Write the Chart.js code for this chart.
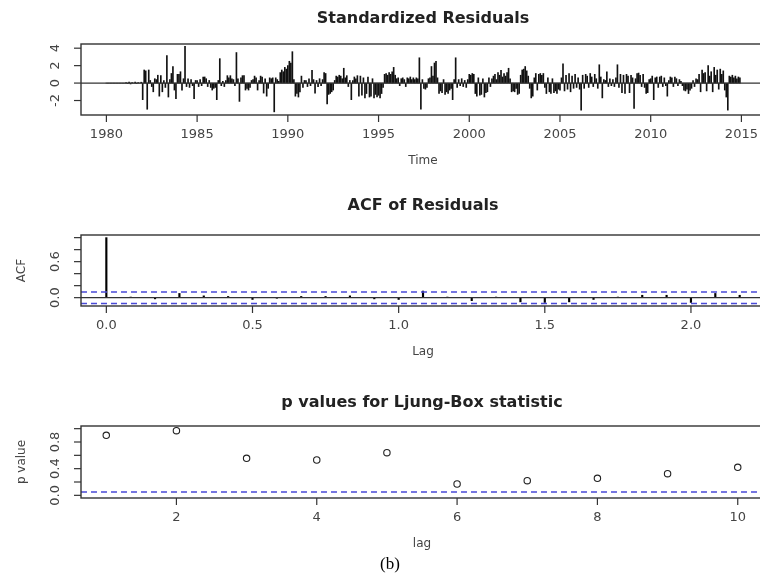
<!DOCTYPE html>
<html>
<head>
<meta charset="utf-8">
<title>tsdiag</title>
<script src="https://cdn.jsdelivr.net/npm/chart.js@4.4.1/dist/chart.umd.min.js"></script>
<style>
  html, body { margin: 0; padding: 0; background: #fff; width: 760px; height: 577px; overflow: hidden; }
  .panel { position: absolute; left: 0; }
  #caption {
    position: absolute; left: 0; width: 780px; top: 554px;
    text-align: center; font-family: "Liberation Serif", "DejaVu Serif", serif; font-size: 17px; color: #000;
  }
</style>
</head>
<body>
<canvas id="residChart" class="panel" style="top:0" width="800" height="180"></canvas>
<canvas id="acfChart" class="panel" style="top:180px" width="800" height="200"></canvas>
<canvas id="lbChart" class="panel" style="top:380px" width="800" height="197"></canvas>
<div id="caption">(b)</div>
<script>
// Standardized residuals, monthly, Jan 1980 .. Dec 2014
const residStart = 1980;
const resid = [
  0, 0, 0, 0, 0, 0, 0, 0, 0, 0, 0, 0,                                // 1980
  0, 0.05, -0.05, 0.1, -0.1, 0.05, 0, 0.1, -0.05, 0.05, 0, 0.1,        // 1981
  -1.9, 1.5, 1.4, -3.0, 1.5, 0.3, -0.4, -1.0, 0.5, 0.4, 0.9, -1.5,     // 1982
  0.85, -1.0, 0.3, -0.5, 3.15, -1.6, 0.4, 1.1, 1.9, -0.8, -1.8, 1.0,   // 1983
  1.0, 1.3, -0.8, 0.5, 4.2, -0.4, 0.5, -0.5, 0.4, -0.3, -1.8, 0.3,     // 1984
  0.3, -0.4, 0.4, -0.3, 0.7, 0.7, 0.5, -0.4, 0.3, -0.5, -0.8, -0.6,    // 1985
  -0.5, -1.9, 0.3, 2.8, -0.3, 0.2, -0.4, 0.3, 0.85, 0.6, 0.85, 0.5,    // 1986
  0.4, -0.3, 3.5, 0.5, -2.1, 0.6, 0.85, 0.85, -0.8, -0.6, -0.8, -0.5,  // 1987
  0.3, 0.4, 0.8, 0.6, -0.8, 0.3, 0.8, 0.7, -1.15, 0.5, -1.5, -0.6,     // 1988
  0.6, 0.5, 0.6, -3.3, 0.6, 0.4, 0.2, 1.2, 1.5, 1.3, 1.8, 1.6,         // 1989
  2.0, 2.5, 2.3, 3.6, 0.4, -1.5, -1.2, -1.6, -1.0, 0.8, -0.5, 0.3,     // 1990
  0.3, -0.4, 0.5, -0.3, 1.45, 0.4, -1.15, 0.3, -0.4, 0.5, -0.3, 0.4,   // 1991
  1.2, 1.1, -2.4, -1.3, -1.2, -1.0, -0.8, 0.3, 0.8, 0.7, 0.9, 0.8,     // 1992
  0.5, 1.7, 0.6, 0.85, -0.4, 0.3, -1.9, 0.3, 0.7, 0.5, 0.85, -1.5,     // 1993
  0.8, -1.4, 0.6, -1.7, -1.2, 0.7, -1.6, -1.5, 0.5, -1.7, -1.3, -1.6,  // 1994
  -1.4, -1.7, -1.2, -0.5, 1.0, 1.1, 0.9, 1.2, 1.0, 1.3, 1.8, 0.9,      // 1995
  0.5, 0.6, -0.3, 0.5, 0.6, 0.4, -0.4, 0.6, 0.5, 0.7, 0.4, 0.6,        // 1996
  0.4, 0.6, 0.5, 2.9, -3.0, 0.4, -0.6, -0.7, -0.5, 0.5, 0.6, 1.9,      // 1997
  0.8, 2.3, 2.5, 0.6, -1.2, -0.9, -1.1, 0.4, -1.3, -1.0, -1.2, -0.8,   // 1998
  -0.6, -1.9, 0.4, 2.9, -0.5, 0.4, -0.3, 0.5, -0.4, 0.3, -0.5, 0.4,    // 1999
  1.0, 0.9, 1.1, 1.0, -1.2, -1.5, 0.6, -1.4, -1.3, 0.5, -1.6, -1.1,    // 2000
  -1.0, 0.6, -0.4, 0.5, 0.8, 1.0, 0.4, 1.2, 0.9, 1.45, 0.7, 1.1,       // 2001
  0.8, 1.2, 1.7, 0.5, -1.0, -0.9, -1.0, -0.6, -1.3, -1.2, 0.9, 1.5,    // 2002
  1.6, 1.9, 1.4, 0.8, -0.6, -1.7, -1.5, 0.6, 1.1, -0.8, 1.0, 1.1,      // 2003
  0.9, 1.1, -0.5, -1.2, 0.6, -1.0, -1.2, 0.5, -1.1, -0.9, -1.2, -0.7,  // 2004
  -0.8, 0.6, 2.2, -0.9, 0.9, -0.7, 1.1, -1.0, 0.8, -0.6, 1.0, -0.5,    // 2005
  0.6, -0.7, -3.1, 0.9, -0.6, 1.0, 0.8, -0.5, 1.1, 0.7, -0.4, 1.0,     // 2006
  0.5, -0.6, 2.1, 0.7, -1.7, 0.4, 0.3, 1.3, -0.4, 0.5, -0.3, 0.4,      // 2007
  -0.4, 0.6, 2.1, -0.5, 1.0, -1.1, 0.9, -1.2, 1.0, 0.8, -1.1, 0.9,     // 2008
  0.6, -2.9, 0.5, 1.1, 1.15, 0.9, -0.4, 1.0, -0.5, -1.2, -1.1, 0.4,    // 2009
  0.5, 0.8, -1.9, 0.6, 0.7, -0.5, 0.7, 0.8, -0.4, 0.6, -0.3, -1.5,     // 2010
  0.3, 0.7, 0.6, -0.4, 0.7, 0.5, -0.3, 0.4, 0.2, -0.3, -0.8, -0.9,     // 2011
  -0.7, -1.2, -0.8, -0.6, 0.3, -0.4, 0.5, 0.4, 1.0, -1.0, 1.5, 1.1,    // 2012
  1.2, -0.9, 2.0, 0.8, 1.3, -1.0, 1.8, 0.9, 1.5, -0.7, 1.6, 1.0,       // 2013
  1.4, -0.8, -1.6, -3.1, 0.8, 0.7, 0.9, 0.6, 0.8, 0.5, 0.7, 0.6        // 2014
];
const residTicksX = [1980, 1985, 1990, 1995, 2000, 2005, 2010, 2015];
const residTicksY = [-2, 0, 2, 4];
const residLabelsY = ['-2', '0', '2', '4'];

// ACF of residuals, lags 0..26 months (shown in years)
const acfVals = [
  1.0, 0.01, -0.02, 0.07, 0.03, 0.02, -0.03, -0.01, 0.02, 0.02,
  0.03, -0.02, -0.03, 0.11, 0.01, -0.05, 0.01, -0.07, -0.08, -0.07,
  -0.03, 0.01, 0.04, 0.04, -0.08, 0.07, 0.04
];
const acfClim = 0.0956;
const acfTicksX = [0, 0.5, 1.0, 1.5, 2.0];
const acfTicksY = [0, 0.2, 0.4, 0.6, 0.8, 1.0];
const acfLabelsY = ['0.0', '', '', '0.6', '', ''];

// Ljung-Box p values, lags 1..10
const lbLags = [1, 2, 3, 4, 5, 6, 7, 8, 9, 10];
const lbPvals = [0.90, 0.97, 0.555, 0.53, 0.64, 0.17, 0.22, 0.255, 0.325, 0.42];
const lbTicksX = [2, 4, 6, 8, 10];
const lbTicksY = [0, 0.2, 0.4, 0.6, 0.8, 1.0];
const lbLabelsY = ['0.0', '', '0.4', '', '0.8', ''];

const FONT = '"DejaVu Sans", "Liberation Sans", sans-serif';
const INK = '#333';
const DASH_BLUE = '#4a4ad6';

// R-style frame: box, outward ticks, rotated y labels, main title and axis titles
const rFrame = {
  id: 'rFrame',
  afterDatasetsDraw(chart, args, o) {
    const { ctx, chartArea: a, scales: { x, y } } = chart;
    const cx = (a.left + a.right) / 2;
    ctx.save();
    ctx.strokeStyle = INK;
    ctx.lineWidth = 1.4;
    ctx.strokeRect(a.left, a.top, a.right - a.left, a.bottom - a.top);

    ctx.lineWidth = 1.2;
    ctx.fillStyle = '#444';
    ctx.font = '13px ' + FONT;
    ctx.textAlign = 'center';
    ctx.textBaseline = 'middle';
    o.xTicks.forEach((v, i) => {
      const px = x.getPixelForValue(v);
      ctx.beginPath();
      ctx.moveTo(px, a.bottom);
      ctx.lineTo(px, a.bottom + 7);
      ctx.stroke();
      ctx.fillText(o.xLabels[i], px, a.bottom + 20);
    });
    o.yTicks.forEach((v, i) => {
      const py = y.getPixelForValue(v);
      ctx.beginPath();
      ctx.moveTo(a.left, py);
      ctx.lineTo(a.left - 7, py);
      ctx.stroke();
      if (o.yLabels[i]) {
        ctx.save();
        ctx.translate(a.left - 25, py);
        ctx.rotate(-Math.PI / 2);
        ctx.fillText(o.yLabels[i], 0, 0);
        ctx.restore();
      }
    });

    ctx.fillStyle = '#222';
    ctx.font = 'bold 16px ' + FONT;
    ctx.fillText(o.title, cx, o.titleY);

    ctx.fillStyle = '#444';
    ctx.font = '12px ' + FONT;
    if (o.xTitle) ctx.fillText(o.xTitle, cx, a.bottom + 46);
    if (o.yTitle) {
      ctx.save();
      ctx.translate(22, (a.top + a.bottom) / 2);
      ctx.rotate(-Math.PI / 2);
      ctx.fillText(o.yTitle, 0, 0);
      ctx.restore();
    }
    ctx.restore();
  }
};

function hline(xMin, xMax, yVal, color, dash) {
  return {
    type: 'line',
    data: [{ x: xMin, y: yVal }, { x: xMax, y: yVal }],
    borderColor: color,
    borderWidth: dash ? 1.5 : 1.2,
    borderDash: dash ? [6, 4] : [],
    pointRadius: 0,
    order: 0
  };
}

function baseOptions(pad, xMin, xMax, yMin, yMax, frame) {
  return {
    responsive: false,
    animation: false,
    events: [],
    layout: { padding: pad },
    plugins: { legend: { display: false }, tooltip: { enabled: false }, rFrame: frame },
    scales: {
      x: { type: 'linear', display: false, offset: false, min: xMin, max: xMax },
      y: { type: 'linear', display: false, min: yMin, max: yMax }
    }
  };
}

// Panel 1: standardized residuals as vertical spikes
const residX = [1978.6, 2016.3];
new Chart(document.getElementById('residChart'), {
  type: 'bar',
  data: {
    datasets: [
      {
        data: resid.map((v, i) => ({ x: residStart + i / 12, y: v })),
        backgroundColor: '#111',
        barThickness: 1,
        grouped: false,
        order: 1
      },
      hline(residX[0], residX[1], 0, INK, false)
    ]
  },
  options: baseOptions({ left: 81, right: 35, top: 44, bottom: 65 }, residX[0], residX[1], -3.66, 4.48, {
    title: 'Standardized Residuals', titleY: 19,
    xTicks: residTicksX, xLabels: residTicksX.map(String),
    yTicks: residTicksY, yLabels: residLabelsY,
    xTitle: 'Time'
  }),
  plugins: [rFrame]
});

// Panel 2: autocorrelation of residuals with +/- confidence bounds
const acfX = [-0.0867, 2.2533];
new Chart(document.getElementById('acfChart'), {
  type: 'bar',
  data: {
    datasets: [
      {
        data: acfVals.map((v, k) => ({ x: k / 12, y: v })),
        backgroundColor: '#000',
        barThickness: 1.5,
        grouped: false,
        order: 1
      },
      hline(acfX[0], acfX[1], 0, INK, false),
      hline(acfX[0], acfX[1], acfClim, DASH_BLUE, true),
      hline(acfX[0], acfX[1], -acfClim, DASH_BLUE, true)
    ]
  },
  options: baseOptions({ left: 81, right: 35, top: 55, bottom: 74 }, acfX[0], acfX[1], -0.139, 1.044, {
    title: 'ACF of Residuals', titleY: 26,
    xTicks: acfTicksX, xLabels: acfTicksX.map(v => v.toFixed(1)),
    yTicks: acfTicksY, yLabels: acfLabelsY,
    xTitle: 'Lag', yTitle: 'ACF'
  }),
  plugins: [rFrame]
});

// Panel 3: Ljung-Box p values with the 0.05 line
const lbX = [0.64, 10.36];
new Chart(document.getElementById('lbChart'), {
  type: 'scatter',
  data: {
    datasets: [
      {
        data: lbLags.map((l, i) => ({ x: l, y: lbPvals[i] })),
        pointRadius: 3.2,
        pointBorderWidth: 1.1,
        pointBorderColor: '#222',
        pointBackgroundColor: 'rgba(0,0,0,0)',
        order: 1
      },
      hline(lbX[0], lbX[1], 0.05, DASH_BLUE, true)
    ]
  },
  options: baseOptions({ left: 81, right: 37, top: 46, bottom: 79 }, lbX[0], lbX[1], -0.04, 1.04, {
    title: 'p values for Ljung-Box statistic', titleY: 23,
    xTicks: lbTicksX, xLabels: lbTicksX.map(String),
    yTicks: lbTicksY, yLabels: lbLabelsY,
    xTitle: 'lag', yTitle: 'p value'
  }),
  plugins: [rFrame]
});
</script>
</body>
</html>
